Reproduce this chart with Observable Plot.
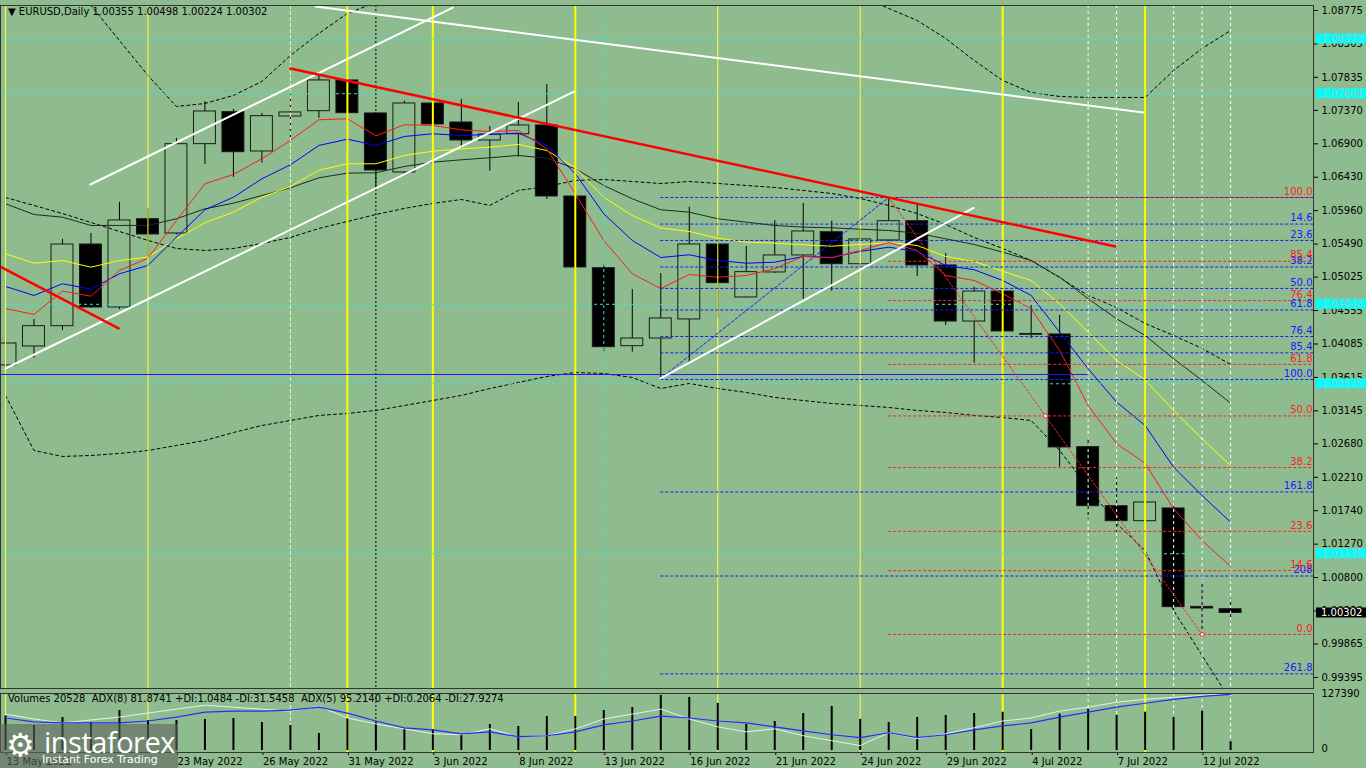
<!DOCTYPE html>
<html><head><meta charset="utf-8">
<script src="https://cdn.jsdelivr.net/npm/d3@7"></script>
<script src="https://cdn.jsdelivr.net/npm/@observablehq/plot@0.6"></script>
<style>
body{margin:0;background:#8fbc8f;width:1366px;height:768px;overflow:hidden;position:relative;font-family:"DejaVu Sans",sans-serif;}
#main{position:absolute;left:0;top:0}
#vol{position:absolute;left:0;top:690px}
.hdr{position:absolute;left:8px;top:6px;font-size:10px;color:#000;white-space:pre}
.vhdr{position:absolute;left:8px;top:693px;font-size:10px;color:#000;white-space:pre}
.logo{position:absolute;left:0;top:724px;width:178px;height:44px;background:rgba(95,100,95,0.6);color:#fff}
.logo .big{position:absolute;left:44px;top:-2px;font-size:29px;letter-spacing:-0.5px;font-family:"Open Sans","DejaVu Sans",sans-serif}
.logo .small{position:absolute;left:42px;top:29px;font-size:11px;font-family:"DejaVu Sans",sans-serif}
.logo .ico{position:absolute;left:6px;top:2px;font-size:32px}
</style></head><body>
<div id="main"></div><div id="vol"></div>
<div class="hdr">▼ EURUSD,Daily 1.00355 1.00498 1.00224 1.00302</div>
<div class="vhdr">Volumes 20528  ADX(8) 81.8741 +DI:1.0484 -DI:31.5458  ADX(5) 95.2140 +DI:0.2064 -DI:27.9274</div>
<div class="logo"><span class="ico">⚙</span><span class="big">instaforex</span><span class="small">Instant Forex Trading</span></div>
<script>
// ---------- DATA ----------
const dates = ["13 May","16 May","17 May","18 May","19 May","20 May","23 May","24 May","25 May","26 May","27 May","30 May","31 May","1 Jun","2 Jun","3 Jun","6 Jun","7 Jun","8 Jun","9 Jun","10 Jun","13 Jun","14 Jun","15 Jun","16 Jun","17 Jun","20 Jun","21 Jun","22 Jun","23 Jun","24 Jun","27 Jun","28 Jun","29 Jun","30 Jun","1 Jul","4 Jul","5 Jul","6 Jul","7 Jul","8 Jul","11 Jul","12 Jul","13 Jul"];
const open  = [1.03783,1.04050,1.04335,1.05484,1.04598,1.05840,1.05639,1.06895,1.07345,1.06792,1.07284,1.07359,1.07791,1.07327,1.06497,1.07467,1.07200,1.06947,1.07035,1.07158,1.06159,1.05151,1.04054,1.04162,1.04430,1.05484,1.04739,1.05091,1.05330,1.05657,1.05207,1.05541,1.05812,1.05189,1.04401,1.04823,1.04214,1.04219,1.02634,1.01804,1.01593,1.01772,1.00388,1.00355];
const high  = [1.04190,1.04430,1.05555,1.05639,1.06075,1.05991,1.06975,1.07495,1.07383,1.07327,1.07650,1.07861,1.07819,1.07340,1.07500,1.07640,1.07523,1.07144,1.07481,1.07734,1.06427,1.05203,1.04851,1.05076,1.06009,1.05597,1.05456,1.05822,1.06061,1.05812,1.05709,1.06149,1.06061,1.05358,1.04880,1.04880,1.04626,1.04486,1.02760,1.02198,1.01931,1.01842,1.00735,1.00498];
const low   = [1.03684,1.03885,1.04275,1.04585,1.04570,1.05301,1.05620,1.06609,1.06427,1.06628,1.06961,1.07256,1.06782,1.06290,1.06455,1.07017,1.06834,1.06515,1.06712,1.06117,1.05048,1.03984,1.03970,1.03600,1.03829,1.04444,1.04730,1.05076,1.04711,1.04828,1.05161,1.05530,1.05034,1.04345,1.03815,1.03670,1.04162,1.02352,1.01617,1.01438,1.00717,1.00337,1.00000,1.00224];
const close = [1.04092,1.04335,1.05484,1.04598,1.05822,1.05625,1.06895,1.07355,1.06782,1.07289,1.07341,1.07791,1.07331,1.06525,1.07467,1.07172,1.06947,1.07031,1.07158,1.06159,1.05161,1.04040,1.04162,1.04444,1.05484,1.04940,1.05095,1.05330,1.05667,1.05207,1.05555,1.05812,1.05189,1.04401,1.04823,1.04261,1.04226,1.02630,1.01804,1.01593,1.01856,1.00384,1.00365,1.00302];
const volume = [80000,57900,76400,64800,92600,69500,69500,71800,74100,64800,57900,39400,74100,64800,51000,48600,37100,60200,55600,78700,78700,92600,99600,127390,123000,108900,60200,67200,85700,101900,71800,64800,76400,81000,85700,88700,48600,84100,95000,81000,88700,76400,91000,20528];

const maRed    = [1.04584,1.04500,1.04828,1.04757,1.05119,1.05292,1.05822,1.06338,1.06469,1.06690,1.06947,1.07238,1.07252,1.07013,1.07168,1.07158,1.07097,1.07073,1.07087,1.06830,1.06197,1.05541,1.05072,1.04865,1.05062,1.05024,1.05048,1.05143,1.05316,1.05297,1.05400,1.05512,1.05400,1.05048,1.04978,1.04791,1.04580,1.03994,1.03220,1.02682,1.02409,1.01767,1.01322,1.00956];
const maBlue   = [1.04894,1.04767,1.04932,1.04856,1.05072,1.05189,1.05587,1.05972,1.06149,1.06408,1.06605,1.06877,1.06965,1.06877,1.07003,1.07041,1.07017,1.07031,1.07050,1.06877,1.06479,1.05916,1.05541,1.05301,1.05339,1.05259,1.05221,1.05235,1.05316,1.05306,1.05386,1.05446,1.05386,1.05189,1.05129,1.04978,1.04767,1.04251,1.03736,1.03267,1.02939,1.02352,1.01954,1.01579];
const maYellow = [1.05354,1.05221,1.05259,1.05165,1.05259,1.05306,1.05564,1.05789,1.05939,1.06149,1.06300,1.06529,1.06619,1.06619,1.06736,1.06796,1.06830,1.06853,1.06891,1.06806,1.06563,1.06149,1.05892,1.05716,1.05667,1.05573,1.05517,1.05503,1.05480,1.05460,1.05484,1.05512,1.05470,1.05316,1.05245,1.05109,1.04978,1.04650,1.04251,1.03853,1.03582,1.03150,1.02752,1.02376];
const maBlack  = [1.06057,1.05906,1.05868,1.05752,1.05752,1.05752,1.05846,1.05986,1.06065,1.06173,1.06282,1.06422,1.06487,1.06493,1.06581,1.06642,1.06675,1.06704,1.06736,1.06698,1.06549,1.06314,1.06127,1.05972,1.05939,1.05846,1.05798,1.05752,1.05728,1.05719,1.05699,1.05681,1.05643,1.05564,1.05484,1.05376,1.05259,1.05024,1.04721,1.04439,1.04205,1.03877,1.03572,1.03253];
const bbUpper  = [1.09478,1.09338,1.09127,1.08845,1.08353,1.07861,1.07425,1.07467,1.07580,1.07777,1.08142,1.08452,1.08733,1.08888,1.09127,1.09267,1.09338,1.09408,1.09478,1.09478,1.09408,1.09478,1.09549,1.09619,1.09549,1.09478,1.09408,1.09338,1.09267,1.09127,1.08986,1.08803,1.08634,1.08381,1.08072,1.07791,1.07622,1.07566,1.07552,1.07552,1.07552,1.07931,1.08241,1.08494];
const bbMid    = [1.06145,1.06033,1.05920,1.05794,1.05667,1.05541,1.05428,1.05400,1.05428,1.05498,1.05583,1.05709,1.05808,1.05906,1.05991,1.06061,1.06117,1.06033,1.06244,1.06300,1.06384,1.06398,1.06370,1.06342,1.06370,1.06342,1.06314,1.06286,1.06244,1.06201,1.06131,1.06033,1.05920,1.05765,1.05583,1.05428,1.05259,1.05020,1.04767,1.04598,1.04373,1.04205,1.04022,1.03797];
const bbLower  = [1.03361,1.02587,1.02503,1.02517,1.02545,1.02587,1.02658,1.02728,1.02840,1.02939,1.03009,1.03080,1.03108,1.03150,1.03220,1.03290,1.03361,1.03459,1.03544,1.03628,1.03684,1.03670,1.03614,1.03459,1.03530,1.03459,1.03403,1.03333,1.03290,1.03248,1.03220,1.03192,1.03150,1.03122,1.03080,1.03051,1.03009,1.02587,1.02067,1.01561,1.01181,1.00337,0.99704,0.99072];

const adxBlue  = [57.9,50.9,49.1,49.1,49.1,52.6,59.6,68.4,70.2,70.2,71.9,77.2,66.7,52.6,40.4,36.8,29.8,33.3,24.6,26.3,33.3,45.6,52.6,61.4,57.9,52.6,49.1,42.1,35.1,28.1,22.8,31.6,22.8,28.1,36.8,43.9,49.1,59.6,68.4,77.2,84.2,91.2,96.5,100];
const adxWhite = [64.9,56.1,49.1,54.4,59.6,66.7,73.7,80.7,77.2,73.7,70.2,78.9,57.9,47.4,38.6,29.8,28.1,38.6,24.6,26.3,38.6,56.1,64.9,73.7,56.1,42.1,33.3,38.6,26.3,17.5,8.8,31.6,21.1,29.8,40.4,52.6,57.9,70.2,77.2,86.0,91.2,94.7,98.2,101.8];

const priceTicks = [1.08775,1.08305,1.07835,1.07370,1.06900,1.06430,1.05960,1.05490,1.05025,1.04555,1.04085,1.03615,1.03145,1.02680,1.02210,1.01740,1.01270,1.00800,1.00330,0.99865,0.99395];
const dateTickBars = [0,6,9,12,15,18,21,24,27,30,33,36,39,42];
const dateTickLabels = ["13 May 2022","23 May 2022","26 May 2022","31 May 2022","3 Jun 2022","8 Jun 2022","13 Jun 2022","16 Jun 2022","21 Jun 2022","24 Jun 2022","29 Jun 2022","4 Jul 2022","7 Jul 2022","12 Jul 2022"];

const cyanLevels = [1.08373,1.07604,1.04643,1.03525,1.01135];
const lastPrice = 1.00302;
const blueFibLevels = [1.06145,1.05771,1.05541,1.05167,1.04866,1.04563,1.04190,1.03960,1.03586,1.02004,1.00822,0.99446];
const blueFibText   = ["","14.6","23.6","38.2","50.0","61.8","76.4","85.4","100.0","161.8","208","261.8"];
const redFibLevels  = [1.06145,1.05248,1.04695,1.03798,1.03073,1.02347,1.01450,1.00897,1.00000];
const redFibText    = ["100.0","85.4","76.4","61.8","50.0","38.2","23.6","14.6","0.0"];
const blueFibStartBar = 23, redFibStartBar = 31;
const supportLine = {price: 1.03656, endBar: 38};

const whiteTrends = [
  [{i:2.98,p:1.06328},{i:15.7,p:1.08815}],
  [{i:0,p:1.03740},{i:19.97,p:1.07636}],
  [{i:10.88,p:1.08831},{i:39.94,p:1.07341}],
  [{i:22.99,p:1.03600},{i:33.98,p:1.05998}]
];
const redTrends = [
  [{i:10.0,p:1.07959},{i:38.96,p:1.05456}],
  [{i:-0.17,p:1.05170},{i:3.97,p:1.04303}]
];
const blueDiag = [{i:23,p:1.03600},{i:31,p:1.06145}];
const redDiag  = [{i:31,p:1.06145},{i:42,p:1.00000}];
const redDiagMarks = [{i:36.5,p:1.03073},{i:42,p:1.00000}];

const yellowThick = [12,15,20,35,40];
const yellowThin  = [0,5,25,30];
const paleDashed  = [10];
const blackDotted = [13];
const cyanVert    = [21];
const whiteDashed = [38,39,41,42,43];

// ---------- CHART ----------
const BG = "#8fbc8f";
const FONT = "DejaVu Sans";
const xDomain = [-0.1755, 45.91];
const candles = dates.map((d,i)=>({i, d, open:open[i], high:high[i], low:low[i], close:close[i], vol:volume[i]}));
const pts = arr => arr.map((v,i)=>({i, v}));
const xMax = xDomain[1], xMin = xDomain[0];

const verticals = () => [
  Plot.ruleX(yellowThin, {stroke:"#ffff40", strokeWidth:1}),
  Plot.ruleX(paleDashed, {stroke:"#f4f4b0", strokeWidth:1, strokeDasharray:"4,2"}),
  Plot.ruleX(yellowThick, {stroke:"#ffff00", strokeWidth:2}),
  Plot.ruleX(blackDotted, {stroke:"#000", strokeWidth:1, strokeDasharray:"2,2"}),
  Plot.ruleX(cyanVert, {stroke:"#30e0e0", strokeWidth:1, strokeDasharray:"3,3"}),
  Plot.ruleX(whiteDashed, {stroke:"#ffffff", strokeWidth:1, strokeDasharray:"3,3"})
];

const main = Plot.plot({
  width: 1366, height: 690,
  marginLeft: 0, marginRight: 53, marginTop: 5, marginBottom: 2,
  style: {background: BG, fontFamily: FONT, fontSize: "10px", color: "#000"},
  x: {domain: xDomain, axis: null},
  y: {domain: [0.99240, 1.08845]},
  marks: [
    Plot.ruleX(candles, {x:"i", y1:"low", y2:"high", stroke:"#000", strokeWidth:1}),
    Plot.rect(candles, {x1:d=>d.i-0.385, x2:d=>d.i+0.385, y1:"open", y2:"close",
      fill:d=>d.close>=d.open?BG:"#000", stroke:"#1a1a1a", strokeWidth:1}),
    Plot.line(pts(bbUpper), {x:"i", y:"v", stroke:"#000", strokeWidth:1, strokeDasharray:"3,3", clip:true}),
    Plot.line(pts(bbMid), {x:"i", y:"v", stroke:"#000", strokeWidth:1, strokeDasharray:"3,3", clip:true}),
    Plot.line(pts(bbLower), {x:"i", y:"v", stroke:"#000", strokeWidth:1, strokeDasharray:"3,3", clip:true}),
    Plot.line(pts(maBlack), {x:"i", y:"v", stroke:"#1e2a1e", strokeWidth:1}),
    Plot.line(pts(maYellow), {x:"i", y:"v", stroke:"#ffff00", strokeWidth:1}),
    Plot.line(pts(maBlue), {x:"i", y:"v", stroke:"#0000ff", strokeWidth:1}),
    Plot.line(pts(maRed), {x:"i", y:"v", stroke:"#ff1a1a", strokeWidth:1}),
    ...verticals(),
    Plot.ruleY(cyanLevels, {stroke:"#30e8e8", strokeWidth:1, strokeDasharray:"3,3"}),
    Plot.ruleY([supportLine], {y:"price", x1:xMin, x2:"endBar", stroke:"#1a1aff", strokeWidth:1.2}),
    Plot.ruleY(blueFibLevels, {x1:blueFibStartBar, x2:xMax, stroke:"#1a1aff", strokeWidth:1, strokeDasharray:"3,2"}),
    Plot.ruleY(redFibLevels, {x1:redFibStartBar, x2:xMax, stroke:"#ff2020", strokeWidth:1, strokeDasharray:"3,2"}),
    Plot.line(blueDiag, {x:"i", y:"p", stroke:"#1a1aff", strokeWidth:1, strokeDasharray:"3,2"}),
    Plot.line(redDiag, {x:"i", y:"p", stroke:"#ff2020", strokeWidth:1, strokeDasharray:"2,2"}),
    Plot.dot(redDiagMarks, {x:"i", y:"p", r:2, stroke:"#ff2020", fill:"#fff", strokeWidth:1}),
    ...whiteTrends.map(t => Plot.line(t, {x:"i", y:"p", stroke:"#ffffff", strokeWidth:2, clip:true})),
    ...redTrends.map(t => Plot.line(t, {x:"i", y:"p", stroke:"#ff0000", strokeWidth:2.5, clip:true})),
    Plot.text(blueFibLevels.map((p,k)=>({p, t:blueFibText[k]})), {x:xMax, y:"p", text:"t", textAnchor:"end", dx:-1, dy:-6, fill:"#1a1aff", fontSize:10}),
    Plot.text(redFibLevels.map((p,k)=>({p, t:redFibText[k]})), {x:xMax, y:"p", text:"t", textAnchor:"end", dx:-1, dy:-6, fill:"#ff2020", fontSize:10}),
    Plot.axisY({anchor:"right", label:null, ticks: priceTicks, tickFormat: d=>d.toFixed(5), tickSize:4, tickPadding:4, fontSize:10, fill:"#000", stroke:"#000"}),
    Plot.frame({stroke:"#333"})
  ]
});
document.getElementById("main").appendChild(main);

{
  const ys = main.scale("y");
  const g = d3.select(main).append("g").attr("font-family", FONT).attr("font-size", 10).attr("text-anchor", "start");
  for (const lv of cyanLevels) {
    const y = ys.apply(lv);
    g.append("rect").attr("x", 1316).attr("y", y-5).attr("width", 50).attr("height", 10).attr("fill", "#00ffff");
    g.append("text").attr("x", 1321).attr("y", y).attr("dy", "0.36em").attr("text-anchor", "start").attr("fill", "#9cc8b4").text(lv.toFixed(5));
  }
  const y = ys.apply(lastPrice);
  g.append("rect").attr("x", 1316).attr("y", y-5).attr("width", 50).attr("height", 10).attr("fill", "#000");
  g.append("text").attr("x", 1321).attr("y", y).attr("dy", "0.36em").attr("text-anchor", "start").attr("fill", "#fff").text(lastPrice.toFixed(5));
}

// ---------- VOLUME / ADX PANEL ----------
const adxToVol = 1300;
const vol = Plot.plot({
  width: 1366, height: 78,
  marginLeft: 0, marginRight: 53, marginTop: 3, marginBottom: 16,
  style: {background: BG, fontFamily: FONT, fontSize: "10px", color: "#000", overflow: "visible"},
  x: {domain: xDomain},
  y: {domain: [-4600, 132000]},
  marks: [
    ...verticals(),
    Plot.ruleX(candles, {x:"i", y1:0, y2:"vol", stroke:"#000", strokeWidth:2}),
    Plot.line(adxWhite.map((v,i)=>({i, v:v*adxToVol})), {x:"i", y:"v", stroke:"#e8f0e8", strokeWidth:1}),
    Plot.line(adxBlue.map((v,i)=>({i, v:v*adxToVol})), {x:"i", y:"v", stroke:"#2a2aff", strokeWidth:1.2}),
    Plot.axisY({anchor:"right", label:null, ticks:[0,127390], tickFormat:d=>String(d), tickSize:0, tickPadding:8, dy:-2, fontSize:10}),
    Plot.axisX({anchor:"bottom", label:null, ticks: dateTickBars, tickFormat: d=>dateTickLabels[dateTickBars.indexOf(d)], tickSize:3, tickPadding:2, textAnchor:"start", dx:1, fontSize:10}),
    Plot.frame({stroke:"#333"})
  ]
});
document.getElementById("vol").appendChild(vol);
</script>
</body></html>
